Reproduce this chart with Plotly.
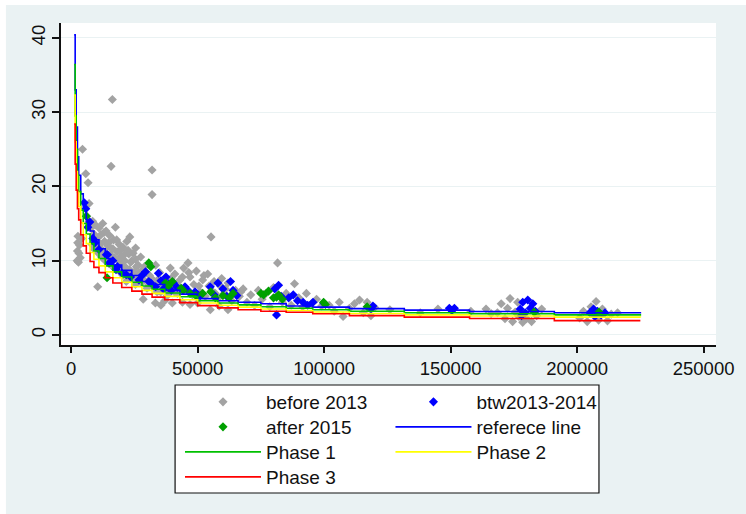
import plotly.graph_objects as go

# ---- scatter groups -------------------------------------------------------
before_2013_x = [
    2400, 2500, 2600, 2700, 2900, 3100, 3300, 3600, 4200,
    4500, 5800, 6700, 7100, 15800, 16300, 32000, 32000, 23200, 25500,
    55300, 46200, 81600, 88300, 10500,
    6200, 7000, 7800, 8500, 9000, 9600, 10200, 11000, 11800, 12500, 13200,
    13800, 14500, 15200, 16000, 16800, 17500, 18200, 19000, 19800, 20500,
    21200, 22000, 22800, 23600, 24500, 25500, 26500, 27500,
    8200, 9200, 10800, 12000, 13500, 15000, 17000, 19000,
    9500, 10500, 11500, 12500, 13000, 14000, 14800, 15600, 16500, 17200,
    18000, 18800, 19500, 20200, 21000, 21800, 22500, 23200, 24000, 24800,
    25800, 26800, 27800, 28800, 29800, 30800, 31800, 33000, 34200, 35400,
    36500, 38000, 39500, 40800, 42500, 44000,
    20500, 21800, 23000, 24200, 25400, 26600, 27800, 29000, 30000, 31000,
    32200, 33400, 34000, 35000, 36000, 37200, 38000, 39200, 40000, 41000,
    42000, 43000,
    33300, 28500, 37000, 44000, 35500, 40000, 47000, 50000,
    44500, 45500, 47000, 48000, 49500, 50500, 52000, 53000, 54000, 55500,
    56500, 58000, 59000, 60500, 62000, 63500, 65000, 66500, 68000, 69500,
    46500, 48500, 51000, 52500, 54500, 57000, 59500, 61000, 64000, 67000,
    55000, 62000, 58500,
    71000, 72500, 74000, 75500, 77000, 78500, 80000, 83500, 85000, 87000,
    90000, 91500, 93000, 95000, 97000, 99000,
    102000, 104000, 106000, 107500, 110000, 112000, 114000, 115500, 117000,
    118500, 120000,
    126000, 138000, 145000, 158000, 164000, 166000,
    168500, 170000, 171500, 172500, 173500, 174500, 175500, 176500, 177000,
    178500, 180000, 182000, 184000, 186000,
    201000, 202500, 204000, 205500, 207500, 208500, 210000, 212000, 213500,
    216000,
]
before_2013_y = [
    10.0, 11.3, 12.4, 13.3, 9.8, 11.0, 12.1, 10.4, 13.0,
    25.0, 21.7, 20.5, 17.7, 22.7, 31.7, 22.2, 18.9, 13.2, 11.7,
    13.2, 9.7, 9.7, 6.9, 6.5,
    16.0, 15.2, 14.4, 15.3, 13.6, 14.8, 13.0, 14.4, 13.5, 15.0, 12.6,
    14.0, 12.0, 13.4, 11.6, 12.8, 14.5, 11.2, 12.2, 10.6, 11.8,
    10.0, 12.6, 10.9, 9.8, 11.0, 10.2, 9.4, 10.5,
    12.2, 11.5, 11.0, 10.5, 10.0, 9.6, 9.0, 8.6,
    12.0, 12.6, 12.2, 11.4, 13.8, 11.0, 12.4, 10.8, 11.6, 10.4,
    12.8, 10.0, 11.4, 9.4, 10.8, 9.0, 11.4, 8.6, 10.0, 8.4,
    9.2, 7.8, 8.6, 7.4, 8.4, 6.8, 7.6, 6.4, 7.4, 5.8,
    7.0, 6.2, 7.6, 5.8, 6.6, 7.8,
    8.0, 7.2, 8.8, 7.6, 6.8, 8.3, 7.0, 9.2, 6.3, 8.0,
    7.0, 9.4, 5.8, 8.4, 6.6, 7.7, 5.3, 9.0, 6.8, 8.2,
    5.6, 7.4,
    4.3, 4.8, 4.6, 4.4, 4.0, 4.3, 4.1, 4.3,
    9.0, 6.2, 7.8, 5.4, 8.6, 6.6, 7.4, 5.2, 8.2, 6.0,
    7.2, 4.9, 6.6, 5.6, 7.0, 4.6, 6.0, 5.2, 6.2, 4.4,
    8.4, 6.8, 5.8, 8.0, 6.6, 5.6, 7.6, 6.2, 5.6, 5.8,
    3.4, 3.4, 3.9,
    5.4, 4.0, 6.0, 4.8, 5.6, 3.8, 6.4, 4.4, 5.6, 4.0,
    5.0, 3.8, 5.6, 4.2, 4.8, 3.9,
    4.0, 3.2, 4.4, 2.5, 3.6, 4.2, 4.7, 3.0, 4.4,
    2.6, 3.7,
    3.4, 3.0, 3.5, 3.2, 3.5, 2.9,
    3.0, 4.2, 2.2, 3.6, 4.9, 1.8, 3.1, 4.4, 2.5,
    1.7, 2.2, 1.8, 2.6, 3.5,
    2.3, 3.2, 1.8, 3.8, 4.5, 2.0, 3.5, 1.9, 2.8,
    3.0,
]

btw_2013_2014_x = [
    5200, 5800, 6600, 7400, 8600, 9400, 11000, 13900, 14400, 15100, 16500,
    17750, 18300, 20200, 21800, 23500, 26800, 28000, 29400, 30700, 31500,
    33400, 34500, 35500, 36500, 37500, 38500, 39600, 40500, 42000, 45000,
    46200, 49000, 51000, 55000, 56500, 58000, 60000, 61500, 63000, 64000,
    65500, 80500, 82000, 81200, 83000, 86000, 87800, 89500, 91700, 93500,
    95600, 99800, 118500, 119300, 149500, 150500, 151500, 177500, 178000,
    178500, 179500, 180500, 181500, 182500, 183500, 205000, 206500, 207000,
    208000, 209500, 211000,
]
btw_2013_2014_y = [
    17.8, 17.0, 14.5, 15.2, 13.0, 12.4, 11.5, 10.8, 10.8, 9.7, 10.0,
    8.8, 9.2, 8.3, 8.1, 7.8, 7.4, 8.0, 8.5, 7.2, 7.0,
    6.5, 8.3, 7.3, 6.2, 7.8, 6.9, 6.0, 7.0, 6.4, 6.5,
    6.0, 5.8, 5.3, 6.5, 5.4, 7.0, 6.2, 5.2, 7.2, 6.0,
    5.3, 6.2, 6.7, 2.7, 5.2, 5.0, 5.4, 4.6, 4.4, 4.0,
    4.4, 4.3, 3.5, 3.9, 3.6, 3.3, 3.6, 3.5, 2.6,
    4.4, 3.0, 4.7, 3.6, 4.2, 3.2, 3.0, 3.5, 2.5,
    3.2, 2.7, 3.0,
]

after_2015_x = [
    6000, 14200, 30700, 31500, 37300, 38500, 40000, 43500, 44300, 47000,
    49300, 52000, 55200, 57000, 60000, 62500, 64000, 75000, 76100, 78000,
    80000, 81200, 82000, 83500, 99800, 100500, 117000, 183000, 208600,
]
after_2015_y = [
    16.0, 7.7, 9.7, 9.2, 7.0, 6.6, 7.2, 6.3, 6.0, 5.6,
    5.3, 5.6, 5.8, 5.0, 5.3, 5.0, 5.6, 5.6, 5.4, 5.9,
    5.0, 5.1, 5.4, 4.8, 4.4, 4.1, 3.8, 3.1, 3.1,
]

# ---- fitted lines (stepped) ------------------------------------------------
line_x = [
    1200, 1600, 2000, 2500, 3000, 3800, 4800, 6000, 7500, 9000, 11000,
    13500, 16500, 20000, 24000, 28000, 32000, 37000, 43000, 50000, 58000,
    66000, 75000, 85000, 95500, 110000, 131700, 157500, 191000, 225000,
]
reference_y = [
    40.4, 33.0, 28.0, 24.0, 21.5, 19.0, 17.3, 15.5, 14.0, 12.8, 11.6,
    10.3, 9.4, 8.7, 8.0, 7.2, 6.8, 6.0, 5.5, 4.9, 4.6,
    4.4, 4.2, 3.9, 3.75, 3.55, 3.35, 3.15, 3.0, 2.9,
]
phase1_y = [
    36.4, 29.5, 25.0, 21.5, 19.3, 16.8, 15.0, 13.6, 12.3, 11.3, 10.3,
    9.3, 8.5, 7.8, 7.1, 6.6, 6.15, 5.65, 5.15, 4.6, 4.3,
    4.05, 3.8, 3.6, 3.4, 3.2, 3.0, 2.85, 2.7, 2.6,
]
phase2_y = [
    32.3, 26.0, 22.0, 19.2, 17.3, 15.1, 13.5, 12.3, 11.1, 10.2, 9.3,
    8.5, 7.7, 7.1, 6.5, 6.0, 5.6, 5.2, 4.75, 4.3, 4.0,
    3.75, 3.5, 3.3, 3.1, 2.9, 2.7, 2.55, 2.4, 2.35,
]
phase3_y = [
    28.4, 23.0, 19.5, 17.0, 15.5, 13.5, 12.0, 11.0, 9.9, 9.1, 8.4,
    7.7, 7.0, 6.4, 5.9, 5.5, 5.1, 4.75, 4.35, 3.95, 3.65,
    3.4, 3.2, 3.05, 2.85, 2.6, 2.4, 2.22, 1.93, 1.93,
]

x_ticks = [0, 50000, 100000, 150000, 200000, 250000]
y_ticks = [0, 10, 20, 30, 40]

BG = "#EAF2F3"
FONT = "Liberation Sans, Arial, sans-serif"
TXT = "#111111"

# plot area in pixels: left 61, top 23, width 666, height 322
PL, PT, PW, PH = 61, 23, 666, 322


def px_x(px):
    return (px - PL) / PW


def px_y(py):
    return (PT + PH - py) / PH


# legend grid: two columns, four rows, inside a framed box
COLS = [182, 396]
ROW_TOPS = [383, 408, 433, 458]

fig = go.Figure()

marker_groups = [
    ("before 2013", before_2013_x, before_2013_y, "#A3A3A3", "legend"),
    ("btw2013-2014", btw_2013_2014_x, btw_2013_2014_y, "#0000FF", "legend2"),
    ("after 2015", after_2015_x, after_2015_y, "#00A000", "legend3"),
]
for name, xs, ys, col, leg in marker_groups:
    fig.add_trace(go.Scatter(
        x=xs, y=ys, mode="markers", name=name, legend=leg,
        marker=dict(symbol="diamond", size=7, color=col, line=dict(width=0)),
    ))

line_groups = [
    ("referece line", reference_y, "#0000FF", "legend4"),
    ("Phase 1", phase1_y, "#00C000", "legend5"),
    ("Phase 2", phase2_y, "#FFFF00", "legend6"),
    ("Phase 3", phase3_y, "#FF0000", "legend7"),
]
for name, ys, col, leg in line_groups:
    fig.add_trace(go.Scatter(
        x=line_x, y=ys, mode="lines", name=name, legend=leg,
        line=dict(color=col, width=1.6, shape="hv"),
    ))

# (column, row) slot of each legend entry
slots = {
    "legend": (0, 0), "legend2": (1, 0),
    "legend3": (0, 1), "legend4": (1, 1),
    "legend5": (0, 2), "legend6": (1, 2),
    "legend7": (0, 3),
}
legend_layout = {}
for key, (c, r) in slots.items():
    legend_layout[key] = dict(
        x=px_x(COLS[c]), xanchor="left",
        y=px_y(ROW_TOPS[r]), yanchor="top",
        bgcolor="rgba(0,0,0,0)", borderwidth=0,
        itemwidth=76,
        font=dict(family=FONT, size=19, color=TXT),
    )

fig.update_layout(
    width=746, height=514,
    margin=dict(l=PL, r=746 - PL - PW, t=PT, b=514 - PT - PH),
    paper_bgcolor=BG,
    plot_bgcolor="white",
    font=dict(family=FONT, size=18, color=TXT),
    showlegend=True,
    **legend_layout,
    shapes=[
        # thin white frame along the top and left edges of the page
        dict(type="rect", xref="paper", yref="paper", layer="below",
             x0=-1, x1=2, y0=px_y(5), y1=2,
             fillcolor="white", line=dict(width=0)),
        dict(type="rect", xref="paper", yref="paper", layer="below",
             x0=-1, x1=px_x(5), y0=-2, y1=2,
             fillcolor="white", line=dict(width=0)),
        # legend frame
        dict(type="rect", xref="paper", yref="paper", layer="below",
             x0=px_x(177), x1=px_x(608), y0=px_y(493), y1=px_y(385),
             fillcolor="white", line=dict(color="#111111", width=1.2)),
    ],
)

fig.update_xaxes(
    range=[-4000, 254900],
    tickvals=x_ticks, ticktext=[str(v) for v in x_ticks],
    showgrid=False, zeroline=False,
    showline=True, linecolor="#111111", linewidth=1.5,
    ticks="outside", ticklen=6, tickwidth=1.5, tickcolor="#111111",
    tickfont=dict(family=FONT, size=18.5, color=TXT),
)
fig.update_yaxes(
    range=[-1.35, 42.0],
    tickvals=y_ticks, ticktext=[str(v) for v in y_ticks],
    tickangle=-90,
    showgrid=True, gridcolor=BG, gridwidth=1.2,
    zeroline=False,
    showline=True, linecolor="#111111", linewidth=1.5,
    ticks="outside", ticklen=7, tickwidth=1.5, tickcolor="#111111",
    tickfont=dict(family=FONT, size=18.5, color=TXT),
)

fig.write_html("out.html")
